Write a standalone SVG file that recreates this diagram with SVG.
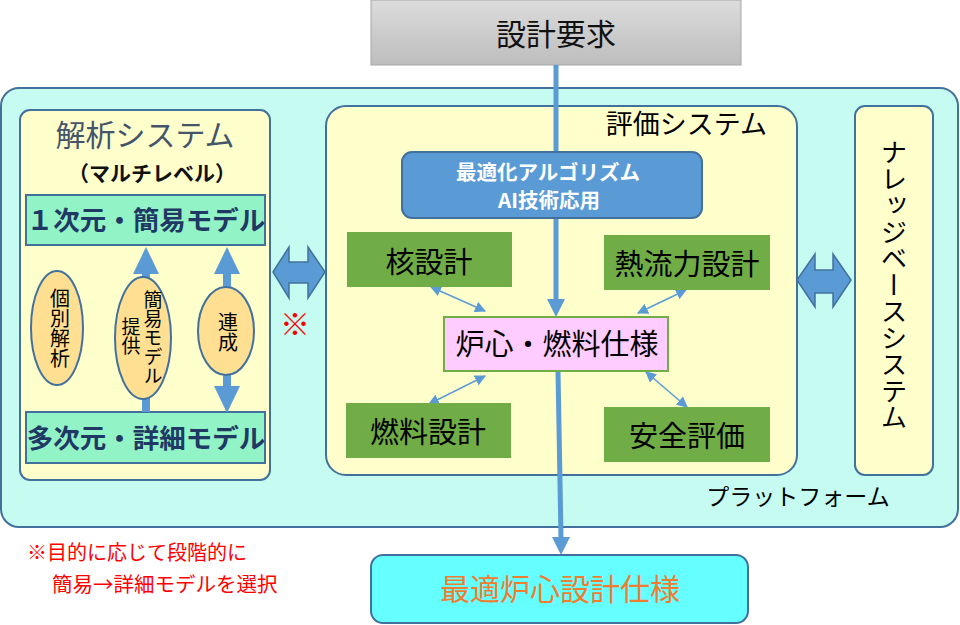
<svg xmlns="http://www.w3.org/2000/svg" width="960" height="625" viewBox="0 0 960 625">
<defs>
<linearGradient id="gray" x1="0" y1="0" x2="0" y2="1"><stop offset="0" stop-color="#dcdcdc"/><stop offset="1" stop-color="#bdbdbd"/></linearGradient>
<marker id="ah" viewBox="0 0 10 10" refX="9" refY="5" markerWidth="11" markerHeight="11" markerUnits="userSpaceOnUse" orient="auto-start-reverse"><path d="M0,0 L10,5 L0,10 z" fill="#5b9bd5"/></marker>
<style>
text{font-family:"Noto Sans CJK JP","Noto Sans",sans-serif;}
.mid{text-anchor:middle}
.vt{writing-mode:vertical-rl;text-orientation:upright}
.panel{fill:#ffffcc;stroke:#41719c;stroke-width:2}
.green{fill:#70ad47}
.ell{fill:#ffdf91;stroke:#41719c;stroke-width:2}
.model{fill:#92f3c6;stroke:#41719c;stroke-width:2}
.blk{fill:#5b9bd5;stroke:#41719c;stroke-width:1.5}
.thin{stroke:#5b9bd5;stroke-width:1.5;fill:none}
</style>
</defs>

<g id="platform">
<rect x="1" y="88" width="957" height="439" rx="18" fill="#c5fbf0" stroke="#41719c" stroke-width="2"/>
<text x="798" y="505" class="mid" font-size="23" fill="#000">プラットフォーム</text>
</g>

<g id="req">
<rect x="371" y="0" width="370" height="65" fill="url(#gray)" stroke="#a6a6a6" stroke-width="1"/>
<text x="556" y="45" class="mid" font-size="30" fill="#111">設計要求</text>
</g>

<g id="analysis">
<rect x="20" y="110" width="250" height="370" rx="10" class="panel"/>
<text x="145" y="146" class="mid" font-size="30" fill="#44546a">解析システム</text>
<text x="152" y="181" class="mid" font-size="21" font-weight="bold" fill="#111">（マルチレベル）</text>
</g>

<g id="model1">
<rect x="26" y="195" width="239" height="50" class="model"/>
<text x="146" y="230" class="mid" font-size="26.5" font-weight="bold" fill="#203864">１次元・簡易モデル</text>
</g>
<g id="model2">
<rect x="26" y="412" width="239" height="51" class="model"/>
<text x="146" y="448" class="mid" font-size="26.5" font-weight="bold" fill="#203864">多次元・詳細モデル</text>
</g>

<g id="analysis-arrows">
<rect x="142" y="272" width="8" height="140" fill="#5b9bd5"/>
<polygon points="133,274 146,247 159,274" fill="#5b9bd5"/>
<rect x="223" y="272" width="8" height="116" fill="#5b9bd5"/>
<polygon points="214,274 227,247 240,274" fill="#5b9bd5"/>
<polygon points="214,386 227,413 240,386" fill="#5b9bd5"/>
</g>

<g id="ell1">
<ellipse cx="57" cy="328" rx="26" ry="57" class="ell"/>
<text x="60" y="288" class="vt" font-size="20" fill="#000">個別解析</text>
</g>
<g id="ell2">
<ellipse cx="143" cy="338" rx="28" ry="61" class="ell"/>
<text x="153" y="290" class="vt" font-size="19" fill="#000">簡易モデル</text>
<text x="131" y="317" class="vt" font-size="19" fill="#000">提供</text>
</g>
<g id="ell3">
<ellipse cx="226" cy="331" rx="28" ry="44" class="ell"/>
<text x="228" y="312" class="vt" font-size="20" fill="#000">連成</text>
</g>

<g id="link-left">
<path d="M273,272 L289,247 L289,262 L308,262 L308,247 L325,272 L308,298 L308,283 L289,283 L289,298 Z" class="blk"/>
<text x="295" y="335" class="mid" font-size="30" fill="#ff0000">※</text>
</g>

<g id="eval">
<rect x="326" y="106" width="471" height="369" rx="20" class="panel"/>
<text x="767" y="134" text-anchor="end" font-size="27" fill="#000">評価システム</text>
</g>

<g id="connectors">
<line x1="556" y1="65" x2="556" y2="300" stroke="#5b9bd5" stroke-width="5"/>
<polygon points="547,299 556,317 565,299" fill="#5b9bd5"/>
<line x1="558" y1="371" x2="561" y2="538" stroke="#5b9bd5" stroke-width="5"/>
<polygon points="552,537 561,555 570,537" fill="#5b9bd5"/>
<line x1="431" y1="287" x2="485" y2="311" class="thin" marker-start="url(#ah)" marker-end="url(#ah)"/>
<line x1="686" y1="290" x2="638" y2="313" class="thin" marker-start="url(#ah)" marker-end="url(#ah)"/>
<line x1="485" y1="376" x2="429" y2="404" class="thin" marker-start="url(#ah)" marker-end="url(#ah)"/>
<line x1="646" y1="372" x2="687" y2="407" class="thin" marker-start="url(#ah)" marker-end="url(#ah)"/>
</g>

<g id="optim">
<rect x="402" y="152" width="300" height="66" rx="10" fill="#5b9bd5" stroke="#41719c" stroke-width="2"/>
<text x="548" y="180" class="mid" font-size="20.5" font-weight="bold" fill="#fff">最適化アルゴリズム</text>
<text x="549" y="208" class="mid" font-size="20.5" font-weight="bold" fill="#fff">AI技術応用</text>
</g>

<g id="core">
<rect x="347" y="232" width="165" height="55" class="green"/>
<text x="429" y="273" class="mid" font-size="29" fill="#000">核設計</text>
</g>
<g id="thermal">
<rect x="604" y="235" width="166" height="55" class="green"/>
<text x="687" y="275" class="mid" font-size="29" fill="#000">熱流力設計</text>
</g>
<g id="fuel">
<rect x="346" y="403" width="165" height="55" class="green"/>
<text x="428" y="443" class="mid" font-size="29" fill="#000">燃料設計</text>
</g>
<g id="safety">
<rect x="604" y="407" width="166" height="55" class="green"/>
<text x="687" y="447" class="mid" font-size="29" fill="#000">安全評価</text>
</g>

<g id="spec">
<rect x="444" y="317" width="224" height="54" fill="#ffccff" stroke="#70ad47" stroke-width="2"/>
<text x="557" y="355" class="mid" font-size="29" fill="#000">炉心・燃料仕様</text>
</g>

<g id="kb">
<rect x="855" y="106" width="78" height="369" rx="10" class="panel"/>
<text x="894" y="139" class="vt" font-size="26.5" fill="#000">ナレッジベースシステム</text>
</g>

<g id="link-right">
<path d="M797,280 L815,254 L815,270 L833,270 L833,254 L851,280 L833,307 L833,293 L815,293 L815,307 Z" class="blk"/>
</g>

<g id="result">
<rect x="371" y="555" width="377" height="68" rx="12" fill="#66ffff" stroke="#41719c" stroke-width="2"/>
<text x="560" y="600" class="mid" font-size="30" fill="#ed7d31">最適炉心設計仕様</text>
</g>

<g id="note">
<text x="27" y="560" font-size="20" fill="#ff0000">※目的に応じて段階的に</text>
<text x="52" y="592" font-size="20.5" fill="#ff0000">簡易→詳細モデルを選択</text>
</g>
</svg>
